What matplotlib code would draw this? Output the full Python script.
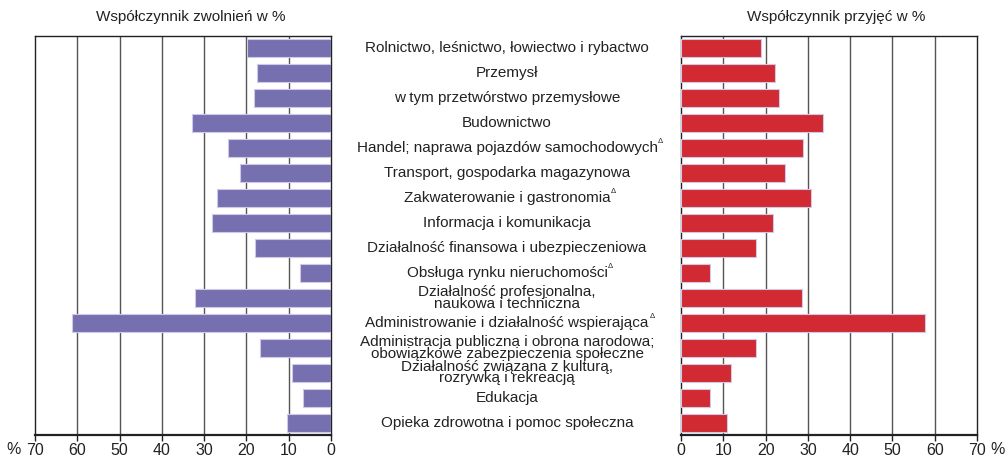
import matplotlib
matplotlib.use("Agg")
import matplotlib.pyplot as plt

plt.rcParams['font.family'] = ['Liberation Sans', 'DejaVu Sans']

categories = [
    "Rolnictwo, leśnictwo, łowiectwo i rybactwo",
    "Przemysł",
    "w tym przetwórstwo przemysłowe",
    "Budownictwo",
    "Handel; naprawa pojazdów samochodowych",
    "Transport, gospodarka magazynowa",
    "Zakwaterowanie i gastronomia",
    "Informacja i komunikacja",
    "Działalność finansowa i ubezpieczeniowa",
    "Obsługa rynku nieruchomości",
    "Działalność profesjonalna,\nnaukowa i techniczna",
    "Administrowanie i działalność wspierająca",
    "Administracja publiczna i obrona narodowa;\nobowiązkowe zabezpieczenia społeczne",
    "Działalność związana z kulturą,\nrozrywką i rekreacją",
    "Edukacja",
    "Opieka zdrowotna i pomoc społeczna",
]
delta_marked = [False, False, False, False, True, False, True, False, False, True,
                False, True, False, False, False, False]

zwolnienia = [19.8, 17.6, 18.2, 32.9, 24.3, 21.5, 27.0, 28.1, 17.9, 7.4,
              32.2, 61.2, 16.9, 9.3, 6.7, 10.5]
przyjecia = [18.9, 22.2, 23.1, 33.5, 28.8, 24.7, 30.7, 21.7, 17.7, 6.8,
             28.6, 57.6, 17.7, 11.9, 6.9, 10.8]

ticks = [0, 10, 20, 30, 40, 50, 60, 70]
title_left = "Współczynnik zwolnień w %"
title_right = "Współczynnik przyjęć w %"

W, H = 1006, 458
fig = plt.figure(figsize=(W / 100, H / 100), dpi=100)

ax_bottom = 1 - 435 / H
ax_height = (435 - 36) / H
axL = fig.add_axes([35 / W, ax_bottom, 296 / W, ax_height])
axR = fig.add_axes([681 / W, ax_bottom, 296 / W, ax_height])

purple = "#7670b0"
red = "#d12a33"
edge = "#cfc8e6"
txt = "#222222"
n = len(categories)
ypos = list(range(n))

for ax, vals, col in [(axL, zwolnienia, purple), (axR, przyjecia, red)]:
    ax.barh(ypos, vals, height=0.72, color=col, edgecolor=edge, linewidth=0.8, zorder=3)
    ax.set_xlim(0, 70)
    ax.set_ylim(n - 0.5, -0.5)
    ax.set_yticks([])
    ax.set_xticks(ticks)
    ax.set_xticklabels([str(t) for t in ticks], fontsize=11.5, color=txt)
    ax.tick_params(axis='x', direction='out', length=4, width=1, pad=2, colors=txt)
    for t in ticks[1:-1]:
        ax.axvline(t, color="#555555", lw=1, zorder=1)
    for s in ax.spines.values():
        s.set_color(txt)
        s.set_linewidth(1)
    ax.spines['bottom'].set_linewidth(1.6)

axL.invert_xaxis()

fig.text(191 / W, 1 - 17 / H, title_left, ha='center', va='center', fontsize=11, color=txt)
fig.text(836 / W, 1 - 17 / H, title_right, ha='center', va='center', fontsize=11, color=txt)

# percent signs next to the 70 tick labels
fig.text(14 / W, 1 - 449 / H, "%", ha='center', va='center', fontsize=11.5, color=txt)
fig.text(998 / W, 1 - 449 / H, "%", ha='center', va='center', fontsize=11.5, color=txt)

# category labels in the middle
xc = 507 / W
for i, (lab, mark) in enumerate(zip(categories, delta_marked)):
    disp = axL.transData.transform((0, i))
    fy = fig.transFigure.inverted().transform(disp)[1]
    t = fig.text(xc, fy, lab, ha='center', va='center', fontsize=11,
                 color=txt, linespacing=0.78)
    if mark:
        axL.annotate("Δ", xy=(1.0, 1.0), xycoords=t, xytext=(0.5, 2),
                     textcoords='offset points', ha='left', va='top',
                     fontsize=5.5, color=txt, annotation_clip=False)

fig.savefig("out.png", dpi=100)
